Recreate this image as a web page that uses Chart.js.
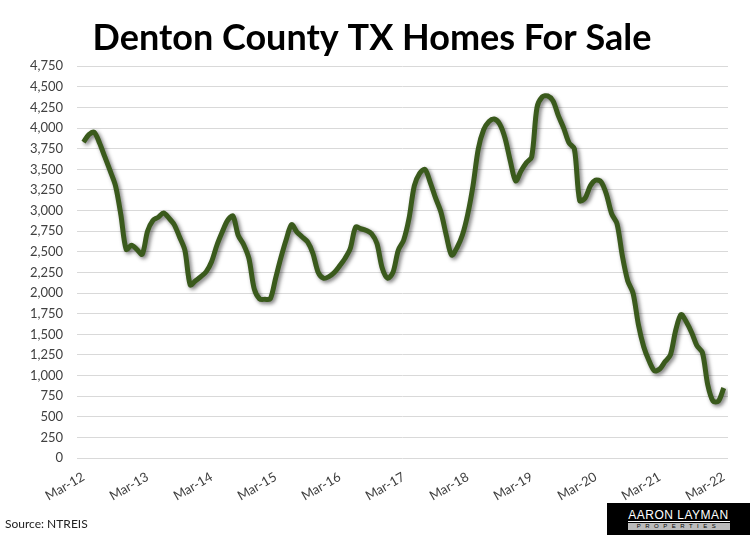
<!DOCTYPE html>
<html>
<head>
<meta charset="utf-8">
<title>Denton County TX Homes For Sale</title>
<script src="https://cdn.jsdelivr.net/npm/chart.js@4"></script>
<style>
  html, body { margin: 0; padding: 0; background: #fff; }
  #wrap { position: relative; width: 750px; height: 535px; overflow: hidden; }
  #source { position: absolute; left: 5px; top: 516px; font-family: Lato, sans-serif; font-size: 12px; color: #222; }
  #logo { position: absolute; left: 607px; top: 503px; width: 143px; height: 32px; background: #000; text-align: center; font-family: "Liberation Sans", sans-serif; color: #fff; }
  #logo .name { margin: 6px auto 0; width: 102px; font-size: 12px; letter-spacing: 0.5px; line-height: 12px; border-bottom: 1px solid #fff; }
  #logo .sub { margin: 1px auto 0; width: 102px; font-size: 6px; line-height: 7px; letter-spacing: 4.5px; background: #bbb; color: #000; }
</style>
</head>
<body>
<div id="wrap">
  <canvas id="homesChart" width="750" height="535"></canvas>
  <div id="source">Source: NTREIS</div>
  <div id="logo"><div class="name">AARON LAYMAN</div><div class="sub">PROPERTIES</div></div>
</div>
<script>
// monthly listings, Mar-12 .. Mar-22
const homesForSale = [
  3830, 3920, 3950, 3820, 3650, 3480, 3300, 2950, 2530, 2580, 2530, 2470,
  2750, 2880, 2920, 2970, 2910, 2830, 2680, 2520, 2100, 2150, 2200, 2260,
  2380, 2580, 2740, 2880, 2935, 2700, 2590, 2420, 2050, 1930, 1925, 1930,
  2180, 2430, 2650, 2830, 2740, 2680, 2620, 2480, 2250, 2180, 2200, 2250,
  2330, 2420, 2540, 2800, 2780, 2760, 2720, 2600, 2300, 2180, 2250, 2520,
  2640, 2900, 3300, 3450, 3500, 3340, 3150, 2980, 2700, 2460, 2550, 2700,
  2950, 3300, 3750, 3980, 4080, 4110, 4050, 3880, 3600, 3360, 3480, 3580,
  3650, 4250, 4380, 4390, 4330, 4150, 4000, 3820, 3750, 3120, 3150, 3300,
  3370, 3350, 3200, 2960, 2840, 2450, 2150, 2000, 1620, 1350, 1180, 1060,
  1080, 1170, 1250, 1550, 1740, 1650, 1520, 1360, 1280, 890, 690, 690,
  850
];
const yearLabels = ['Mar-12', 'Mar-13', 'Mar-14', 'Mar-15', 'Mar-16', 'Mar-17', 'Mar-18', 'Mar-19', 'Mar-20', 'Mar-21', 'Mar-22'];
const yTicks = [0, 250, 500, 750, 1000, 1250, 1500, 1750, 2000, 2250, 2500, 2750, 3000, 3250, 3500, 3750, 4000, 4250, 4500, 4750];

const points = homesForSale.map((v, i) => ({ x: i, y: v }));

// soft drop shadow under the line
const shadowPlugin = {
  id: 'lineShadow',
  beforeDatasetsDraw(chart) {
    const ctx = chart.ctx;
    ctx.save();
    ctx.shadowColor = 'rgba(0,0,0,0.45)';
    ctx.shadowBlur = 4;
    ctx.shadowOffsetX = 2;
    ctx.shadowOffsetY = 2;
  },
  afterDatasetsDraw(chart) {
    chart.ctx.restore();
  }
};

new Chart(document.getElementById('homesChart'), {
  type: 'line',
  data: {
    datasets: [{
      data: points,
      borderColor: '#3a5a1c',
      borderWidth: 5,
      pointRadius: 0,
      tension: 0.3,
      fill: false
    }, {
      data: points,
      borderColor: '#5d8034',
      borderWidth: 1.2,
      pointRadius: 0,
      tension: 0.3,
      fill: false
    }]
  },
  options: {
    responsive: false,
    animation: false,
    layout: { padding: { left: 16, right: 22, top: 12, bottom: 28 } },
    plugins: {
      legend: { display: false },
      tooltip: { enabled: false },
      title: {
        display: true,
        text: 'Denton County TX Homes For Sale',
        color: '#000',
        font: { family: 'Lato', size: 36, weight: 'bold' },
        padding: { top: 5, bottom: 6 }
      }
    },
    scales: {
      x: {
        type: 'linear',
        min: -1.2,
        max: 120.8,
        grid: { display: false },
        border: { display: false },
        afterBuildTicks(scale) {
          scale.ticks = yearLabels.map((_, k) => ({ value: k * 12 }));
        },
        ticks: {
          autoSkip: false,
          minRotation: 30,
          maxRotation: 30,
          color: '#404040',
          font: { family: 'Lato', size: 13 },
          callback: function(value) { return yearLabels[Math.round(value / 12)]; }
        }
      },
      y: {
        min: 0,
        max: 4750,
        border: { display: false },
        grid: { color: '#d9d9d9', lineWidth: 1, drawTicks: false },
        afterBuildTicks(scale) {
          scale.ticks = yTicks.map(v => ({ value: v }));
        },
        ticks: {
          color: '#404040',
          padding: 14,
          font: { family: 'Lato', size: 13 },
          callback: function(value) { return value.toLocaleString('en-US'); }
        }
      }
    }
  },
  plugins: [shadowPlugin]
});
</script>
</body>
</html>
